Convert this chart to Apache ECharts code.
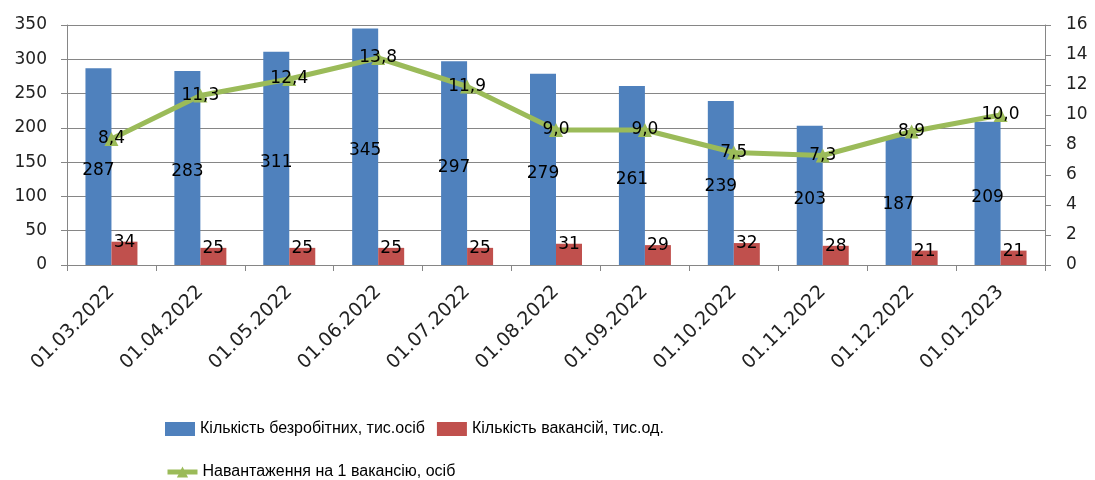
<!DOCTYPE html>
<html>
<head>
<meta charset="utf-8">
<script src="https://cdn.jsdelivr.net/npm/echarts@6/dist/echarts.min.js"></script>
<style>
html, body { margin: 0; padding: 0; background: #fff; }
#chart { width: 1095px; height: 480px; }
</style>
</head>
<body>
<div id="chart"></div>
<script>
var categories = ['01.03.2022', '01.04.2022', '01.05.2022', '01.06.2022', '01.07.2022', '01.08.2022',
                  '01.09.2022', '01.10.2022', '01.11.2022', '01.12.2022', '01.01.2023'];
var unemployed = [287, 283, 311, 345, 297, 279, 261, 239, 203, 187, 209];
var vacancies = [34, 25, 25, 25, 25, 31, 29, 32, 28, 21, 21];
var load = [8.4, 11.3, 12.4, 13.8, 11.9, 9.0, 9.0, 7.5, 7.3, 8.9, 10.0];

var names = ['Кількість безробітних, тис.осіб', 'Кількість вакансій, тис.од.', 'Навантаження на 1 вакансію, осіб'];

var axisFont = 'DejaVu Sans';
var legendFont = '"Liberation Sans", sans-serif';

function createChart(){
    var myChart = echarts.init(document.getElementById('chart'));
    myChart.setOption({
        animation: false,
        grid: { left: 67, right: 50, top: 25, bottom: 215 },
        legend: [
            {
                left: 160, top: 416,
                itemWidth: 30, itemHeight: 14, itemGap: 12,
                icon: 'rect',
                textStyle: { fontFamily: legendFont, fontSize: 16, color: '#000' },
                data: [names[0], names[1]]
            },
            {
                left: 160, top: 459,
                itemWidth: 30, itemHeight: 14,
                lineStyle: { width: 5 },
                textStyle: { fontFamily: legendFont, fontSize: 16, color: '#000' },
                data: [names[2]]
            }
        ],
        xAxis: [{
            type: 'category',
            data: categories,
            axisLine: { lineStyle: { color: '#868686' } },
            axisTick: { show: true, length: 6, lineStyle: { color: '#868686' } },
            axisLabel: { rotate: 45, fontFamily: axisFont, fontSize: 19, color: '#222', margin: 24 }
        }],
        yAxis: [
            {
                type: 'value', min: 0, max: 350, interval: 50,
                axisLine: { show: true, lineStyle: { color: '#868686' } },
                axisTick: { show: true, length: 6, lineStyle: { color: '#868686' } },
                axisLabel: { fontFamily: axisFont, fontSize: 17, color: '#222', margin: 20 },
                splitLine: { lineStyle: { color: '#868686', width: 1 } }
            },
            {
                type: 'value', min: 0, max: 16, interval: 2,
                axisLine: { show: true, lineStyle: { color: '#868686' } },
                axisTick: { show: true, length: 6, lineStyle: { color: '#868686' } },
                axisLabel: { fontFamily: axisFont, fontSize: 17, color: '#222', margin: 21 },
                splitLine: { show: false }
            }
        ],
        series: [
            {
                name: names[0], type: 'bar', data: unemployed,
                barWidth: 26, barGap: '0%',
                itemStyle: { color: '#4F81BD' },
                label: { show: true, position: 'inside', offset: [0, 4], fontFamily: axisFont, fontSize: 17, color: '#000' }
            },
            {
                name: names[1], type: 'bar', data: vacancies,
                barWidth: 26,
                itemStyle: { color: '#C0504D' },
                label: { show: true, position: 'top', distance: -9, fontFamily: axisFont, fontSize: 17, color: '#000' }
            },
            {
                name: names[2], type: 'line', yAxisIndex: 1, data: load,
                z: 5,
                symbol: 'triangle', symbolSize: 14,
                lineStyle: { color: '#9BBB59', width: 5 },
                itemStyle: { color: '#9BBB59' },
                label: {
                    show: true, position: 'inside', fontFamily: axisFont, fontSize: 17, color: '#000',
                    formatter: function (p) { return p.value.toFixed(1).replace('.', ','); }
                }
            }
        ]
    });
}
createChart();
</script>
</body>
</html>
